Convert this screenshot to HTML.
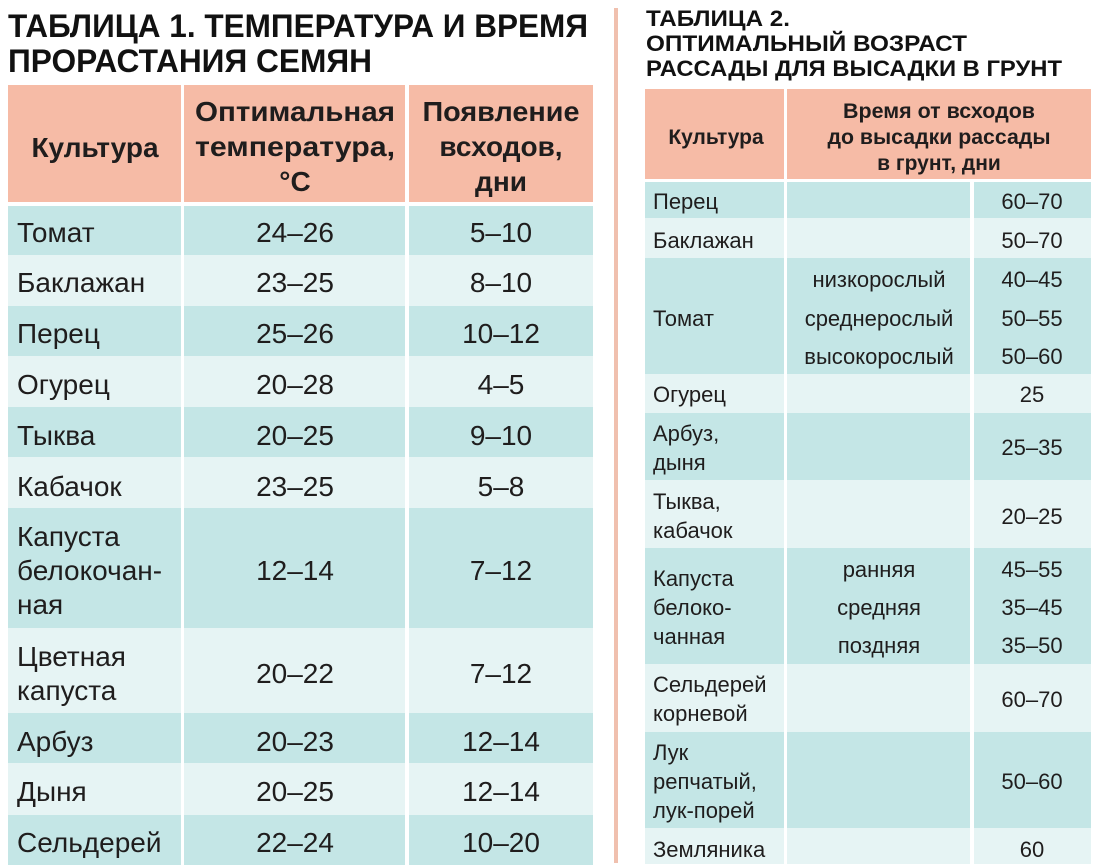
<!DOCTYPE html>
<html><head><meta charset="utf-8">
<style>
html,body{margin:0;padding:0;background:#fff;}
svg{display:block;}
text{font-family:"Liberation Sans","Noto Sans CJK SC",sans-serif;fill:#1f1d1d;}
.b{font-weight:bold;}
.t1{font-size:28px;}
.t2{font-size:22px;}
.h1{font-size:28px;font-weight:bold;}
.h2{font-size:21px;font-weight:bold;}
.ti1{font-size:32px;font-weight:bold;fill:#111;}
.ti2{font-size:22px;font-weight:bold;fill:#111;}
</style></head>
<body>
<svg width="1102" height="868" viewBox="0 0 1102 868" xmlns="http://www.w3.org/2000/svg">
<rect width="1102" height="868" fill="#fff"/>

<!-- Titles -->
<text class="ti1" x="8" y="37" textLength="580" lengthAdjust="spacingAndGlyphs">ТАБЛИЦА 1. ТЕМПЕРАТУРА И ВРЕМЯ</text>
<text class="ti1" x="8" y="72" textLength="364" lengthAdjust="spacingAndGlyphs">ПРОРАСТАНИЯ СЕМЯН</text>

<rect x="614" y="8" width="4" height="855" fill="#f0c0ae"/>

<text class="ti2" x="646" y="26" textLength="144" lengthAdjust="spacingAndGlyphs">ТАБЛИЦА 2.</text>
<text class="ti2" x="646" y="51" textLength="321" lengthAdjust="spacingAndGlyphs">ОПТИМАЛЬНЫЙ ВОЗРАСТ</text>
<text class="ti2" x="646" y="76" textLength="416" lengthAdjust="spacingAndGlyphs">РАССАДЫ ДЛЯ ВЫСАДКИ В ГРУНТ</text>

<!-- TABLE 1 backgrounds -->
<g>
<rect x="8" y="85" width="173" height="117" fill="#f6bba6"/>
<rect x="184" y="85" width="221" height="117" fill="#f6bba6"/>
<rect x="409" y="85" width="184" height="117" fill="#f6bba6"/>
</g>
<g id="t1rows">
<!-- dark rows -->
<g fill="#c4e6e6">
<rect x="8" y="206" width="173" height="49"/><rect x="184" y="206" width="221" height="49"/><rect x="409" y="206" width="184" height="49"/>
<rect x="8" y="306" width="173" height="50"/><rect x="184" y="306" width="221" height="50"/><rect x="409" y="306" width="184" height="50"/>
<rect x="8" y="407" width="173" height="50"/><rect x="184" y="407" width="221" height="50"/><rect x="409" y="407" width="184" height="50"/>
<rect x="8" y="508" width="173" height="120"/><rect x="184" y="508" width="221" height="120"/><rect x="409" y="508" width="184" height="120"/>
<rect x="8" y="713" width="173" height="50"/><rect x="184" y="713" width="221" height="50"/><rect x="409" y="713" width="184" height="50"/>
<rect x="8" y="815" width="173" height="50"/><rect x="184" y="815" width="221" height="50"/><rect x="409" y="815" width="184" height="50"/>
</g>
<g fill="#e6f4f4">
<rect x="8" y="255" width="173" height="51"/><rect x="184" y="255" width="221" height="51"/><rect x="409" y="255" width="184" height="51"/>
<rect x="8" y="356" width="173" height="51"/><rect x="184" y="356" width="221" height="51"/><rect x="409" y="356" width="184" height="51"/>
<rect x="8" y="457" width="173" height="51"/><rect x="184" y="457" width="221" height="51"/><rect x="409" y="457" width="184" height="51"/>
<rect x="8" y="628" width="173" height="85"/><rect x="184" y="628" width="221" height="85"/><rect x="409" y="628" width="184" height="85"/>
<rect x="8" y="763" width="173" height="52"/><rect x="184" y="763" width="221" height="52"/><rect x="409" y="763" width="184" height="52"/>
</g>
</g>

<!-- TABLE 1 header text -->
<text class="h1" x="95" y="157" text-anchor="middle">Культура</text>
<text class="h1" x="295" y="121" text-anchor="middle" textLength="200" lengthAdjust="spacingAndGlyphs">Оптимальная</text>
<text class="h1" x="295" y="156" text-anchor="middle" textLength="200" lengthAdjust="spacingAndGlyphs">температура,</text>
<text class="h1" x="295" y="191" text-anchor="middle">°С</text>
<text class="h1" x="501" y="121" text-anchor="middle" textLength="157" lengthAdjust="spacingAndGlyphs">Появление</text>
<text class="h1" x="501" y="156" text-anchor="middle">всходов,</text>
<text class="h1" x="501" y="191" text-anchor="middle">дни</text>

<!-- TABLE 1 body -->
<g class="t1">
<text x="17" y="242">Томат</text><text x="295" y="242" text-anchor="middle">24–26</text><text x="501" y="242" text-anchor="middle">5–10</text>
<text x="17" y="292">Баклажан</text><text x="295" y="292" text-anchor="middle">23–25</text><text x="501" y="292" text-anchor="middle">8–10</text>
<text x="17" y="343">Перец</text><text x="295" y="343" text-anchor="middle">25–26</text><text x="501" y="343" text-anchor="middle">10–12</text>
<text x="17" y="394">Огурец</text><text x="295" y="394" text-anchor="middle">20–28</text><text x="501" y="394" text-anchor="middle">4–5</text>
<text x="17" y="445">Тыква</text><text x="295" y="445" text-anchor="middle">20–25</text><text x="501" y="445" text-anchor="middle">9–10</text>
<text x="17" y="496">Кабачок</text><text x="295" y="496" text-anchor="middle">23–25</text><text x="501" y="496" text-anchor="middle">5–8</text>
<text x="17" y="546">Капуста</text>
<text x="17" y="580">белокочан-</text>
<text x="17" y="614">ная</text>
<text x="295" y="580" text-anchor="middle">12–14</text><text x="501" y="580" text-anchor="middle">7–12</text>
<text x="17" y="666">Цветная</text>
<text x="17" y="700">капуста</text>
<text x="295" y="683" text-anchor="middle">20–22</text><text x="501" y="683" text-anchor="middle">7–12</text>
<text x="17" y="751">Арбуз</text><text x="295" y="751" text-anchor="middle">20–23</text><text x="501" y="751" text-anchor="middle">12–14</text>
<text x="17" y="801">Дыня</text><text x="295" y="801" text-anchor="middle">20–25</text><text x="501" y="801" text-anchor="middle">12–14</text>
<text x="17" y="852">Сельдерей</text><text x="295" y="852" text-anchor="middle">22–24</text><text x="501" y="852" text-anchor="middle">10–20</text>
</g>

<!-- TABLE 2 backgrounds -->
<rect x="645" y="89" width="139" height="90" fill="#f6bba6"/>
<rect x="787" y="89" width="304" height="90" fill="#f6bba6"/>
<g fill="#c4e6e6">
<rect x="645" y="182" width="139" height="36"/><rect x="787" y="182" width="183" height="36"/><rect x="974" y="182" width="117" height="36"/>
<rect x="645" y="258" width="139" height="116"/><rect x="787" y="258" width="183" height="116"/><rect x="974" y="258" width="117" height="116"/>
<rect x="645" y="413" width="139" height="67"/><rect x="787" y="413" width="183" height="67"/><rect x="974" y="413" width="117" height="67"/>
<rect x="645" y="548" width="139" height="116"/><rect x="787" y="548" width="183" height="116"/><rect x="974" y="548" width="117" height="116"/>
<rect x="645" y="732" width="139" height="96"/><rect x="787" y="732" width="183" height="96"/><rect x="974" y="732" width="117" height="96"/>
</g>
<g fill="#e6f4f4">
<rect x="645" y="218" width="139" height="40"/><rect x="787" y="218" width="183" height="40"/><rect x="974" y="218" width="117" height="40"/>
<rect x="645" y="374" width="139" height="39"/><rect x="787" y="374" width="183" height="39"/><rect x="974" y="374" width="117" height="39"/>
<rect x="645" y="480" width="139" height="68"/><rect x="787" y="480" width="183" height="68"/><rect x="974" y="480" width="117" height="68"/>
<rect x="645" y="664" width="139" height="68"/><rect x="787" y="664" width="183" height="68"/><rect x="974" y="664" width="117" height="68"/>
<rect x="645" y="828" width="139" height="36"/><rect x="787" y="828" width="183" height="36"/><rect x="974" y="828" width="117" height="36"/>
</g>

<!-- TABLE 2 header text -->
<text class="h2" x="716" y="144" text-anchor="middle">Культура</text>
<text class="h2" x="939" y="118" text-anchor="middle" textLength="192" lengthAdjust="spacingAndGlyphs">Время от всходов</text>
<text class="h2" x="939" y="144" text-anchor="middle" textLength="223" lengthAdjust="spacingAndGlyphs">до высадки рассады</text>
<text class="h2" x="939" y="170" text-anchor="middle">в грунт, дни</text>

<!-- TABLE 2 body -->
<g class="t2">
<text x="653" y="209">Перец</text><text x="1032" y="209" text-anchor="middle">60–70</text>
<text x="653" y="248">Баклажан</text><text x="1032" y="248" text-anchor="middle">50–70</text>
<text x="653" y="326">Томат</text>
<text x="879" y="287" text-anchor="middle">низкорослый</text><text x="1032" y="287" text-anchor="middle">40–45</text>
<text x="879" y="326" text-anchor="middle">среднерослый</text><text x="1032" y="326" text-anchor="middle">50–55</text>
<text x="879" y="364" text-anchor="middle">высокорослый</text><text x="1032" y="364" text-anchor="middle">50–60</text>
<text x="653" y="402">Огурец</text><text x="1032" y="402" text-anchor="middle">25</text>
<text x="653" y="441">Арбуз,</text><text x="653" y="470">дыня</text><text x="1032" y="455" text-anchor="middle">25–35</text>
<text x="653" y="509">Тыква,</text><text x="653" y="538">кабачок</text><text x="1032" y="524" text-anchor="middle">20–25</text>
<text x="653" y="586">Капуста</text><text x="653" y="615">белоко-</text><text x="653" y="644">чанная</text>
<text x="879" y="577" text-anchor="middle">ранняя</text><text x="1032" y="577" text-anchor="middle">45–55</text>
<text x="879" y="615" text-anchor="middle">средняя</text><text x="1032" y="615" text-anchor="middle">35–45</text>
<text x="879" y="653" text-anchor="middle">поздняя</text><text x="1032" y="653" text-anchor="middle">35–50</text>
<text x="653" y="692">Сельдерей</text><text x="653" y="721">корневой</text><text x="1032" y="707" text-anchor="middle">60–70</text>
<text x="653" y="760">Лук</text><text x="653" y="789">репчатый,</text><text x="653" y="818">лук-порей</text><text x="1032" y="789" text-anchor="middle">50–60</text>
<text x="653" y="857">Земляника</text><text x="1032" y="857" text-anchor="middle">60</text>
</g>
</svg>
</body></html>
